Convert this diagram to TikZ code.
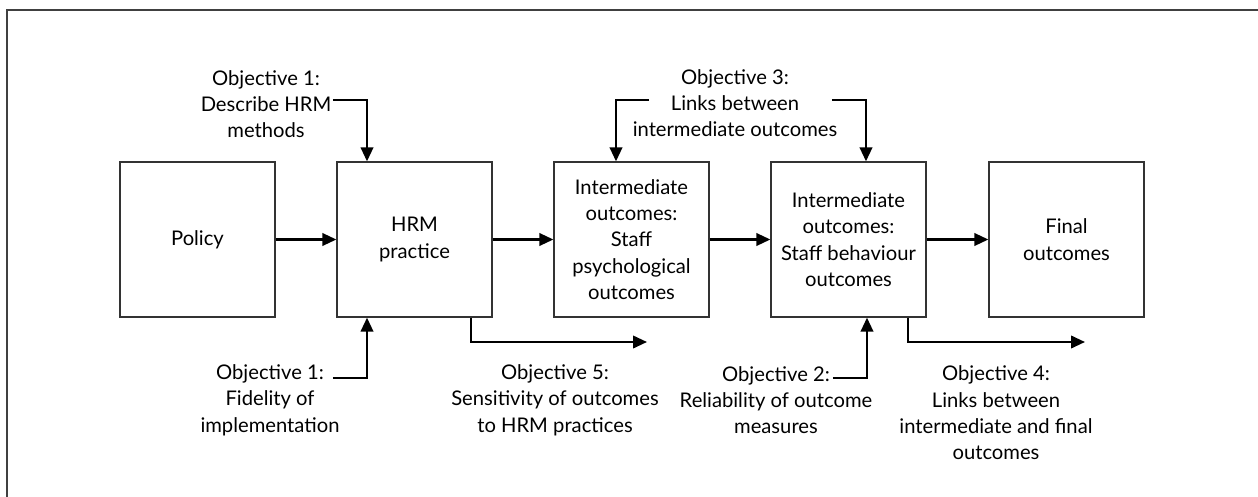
\documentclass[tikz,border=0pt]{standalone}
\usepackage{fontspec}
\setmainfont{Lato}
\usetikzlibrary{arrows.meta}

\begin{document}
\begin{tikzpicture}[
	x=0.02cm,
	y=-0.02cm,
	stage/.style={
		rectangle,
		draw=black!80,
		line width=0.75pt,
		align=center,
		inner sep=1pt,
		minimum height=3.1cm,
		minimum width=3.1cm,
		font=\fontsize{11.5}{15}\selectfont
	},
	objective/.style={
		align=center,
		inner sep=1pt,
		font=\fontsize{11.5}{15}\selectfont
	},
	flow/.style={
		line width=1.3pt,
		-{Triangle[length=0.28cm,width=0.25cm]}
	},
]
\useasboundingbox (0,0) rectangle (1258,497);

% Frame
\draw[line width=1.1pt, black!75] (7,497) -- (7,10) -- (1258,10);

% Stages
\node[stage] (policy) at (197.5,239.5) {Policy};
\node[stage] (hrm) at (414.5,239.5) {HRM\\practice};
\node[stage] (psych) at (631.5,239.5) {Intermediate\\outcomes:\\Staff\\psychological\\outcomes};
\node[stage] (behav) at (848.5,239.5) {Intermediate\\outcomes:\\Staff behaviour\\outcomes};
\node[stage] (final) at (1066.5,239.5) {Final\\outcomes};

\draw[flow] (policy) -- (hrm);
\draw[flow] (hrm) -- (psych);
\draw[flow] (psych) -- (behav);
\draw[flow] (behav) -- (final);

% Objectives
\node[objective] (objA) at (266,104) {Objective 1:\\Describe HRM\\methods};
\node[objective] (objB) at (735,103) {Objective 3:\\Links between\\intermediate outcomes};
\node[objective] (objC) at (270,400) {Objective 1:\\Fidelity of\\implementation};
\node[objective] (objD) at (555,400) {Objective 5:\\Sensitivity of outcomes\\to HRM practices};
\node[objective] (objE) at (776,400) {Objective 2:\\Reliability of outcome\\measures};
\node[objective] (objF) at (996,413) {Objective 4:\\Links between\\intermediate and final\\outcomes};

\coordinate (tipD) at (647,342);
\coordinate (tipF) at (1085,342);

\draw[flow] ([xshift=1.34cm,yshift=0.08cm]objA.center) -| ([xshift=-0.95cm]hrm.north);
\draw[flow] ([xshift=-1.72cm,yshift=0.06cm]objB.center) -| ([xshift=-0.31cm]psych.north);
\draw[flow] ([xshift=1.94cm,yshift=0.06cm]objB.center) -| ([xshift=0.35cm]behav.north);
\draw[flow] ([xshift=1.26cm,yshift=0.44cm]objC.center) -| ([xshift=-0.95cm]hrm.south);
\draw[flow] ([xshift=1.14cm,yshift=0.44cm]objE.center) -| ([xshift=0.37cm]behav.south);
\draw[flow] ([xshift=1.13cm]hrm.south) |- (tipD);
\draw[flow] ([xshift=1.19cm]behav.south) |- (tipF);

\end{tikzpicture}
\end{document}
